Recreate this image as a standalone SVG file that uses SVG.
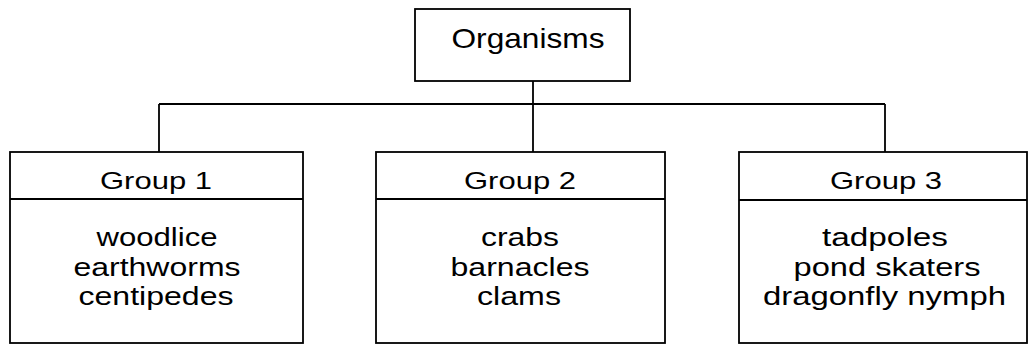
<svg xmlns="http://www.w3.org/2000/svg" width="1029" height="346" viewBox="0 0 1029 346">
<style>
.box{fill:#fff;stroke:#000;stroke-width:1.8}
.ln{fill:none;stroke:#000;stroke-width:1.8}
text{font-family:"Liberation Sans",Arial,sans-serif;fill:#000;text-anchor:middle}
.t{font-size:28px}
.h{font-size:24.5px}
.b{font-size:25px}
</style>
<rect width="1029" height="346" fill="#fff"/>
<g id="connectors">
<path class="ln" d="M533 81V152M159 104H885M159 104V152M885 104V152"/>
</g>
<g id="organisms">
<rect class="box" x="415" y="9" width="215" height="72"/>
<text class="t" x="528" y="48" textLength="153" lengthAdjust="spacingAndGlyphs">Organisms</text>
</g>
<g id="group1">
<rect class="box" x="10" y="152" width="293" height="191"/>
<line class="ln" x1="10" y1="199" x2="303" y2="199"/>
<text class="h" x="156" y="189" textLength="112" lengthAdjust="spacingAndGlyphs">Group 1</text>
<text class="b" x="157" y="246" textLength="121" lengthAdjust="spacingAndGlyphs">woodlice</text>
<text class="b" x="157" y="275.5" textLength="167" lengthAdjust="spacingAndGlyphs">earthworms</text>
<text class="b" x="156" y="305" textLength="155" lengthAdjust="spacingAndGlyphs">centipedes</text>
</g>
<g id="group2">
<rect class="box" x="376" y="152" width="289" height="191"/>
<line class="ln" x1="376" y1="199" x2="665" y2="199"/>
<text class="h" x="520" y="189" textLength="112" lengthAdjust="spacingAndGlyphs">Group 2</text>
<text class="b" x="520" y="246" textLength="78" lengthAdjust="spacingAndGlyphs">crabs</text>
<text class="b" x="520" y="275.5" textLength="139" lengthAdjust="spacingAndGlyphs">barnacles</text>
<text class="b" x="519" y="305" textLength="84" lengthAdjust="spacingAndGlyphs">clams</text>
</g>
<g id="group3">
<rect class="box" x="739" y="152" width="288" height="191"/>
<line class="ln" x1="739" y1="200" x2="1027" y2="200"/>
<text class="h" x="886" y="189" textLength="112" lengthAdjust="spacingAndGlyphs">Group 3</text>
<text class="b" x="885" y="246" textLength="126" lengthAdjust="spacingAndGlyphs">tadpoles</text>
<text class="b" x="887" y="275.5" textLength="187" lengthAdjust="spacingAndGlyphs">pond skaters</text>
<text class="b" x="884.5" y="305" textLength="243" lengthAdjust="spacingAndGlyphs">dragonfly nymph</text>
</g>
</svg>
